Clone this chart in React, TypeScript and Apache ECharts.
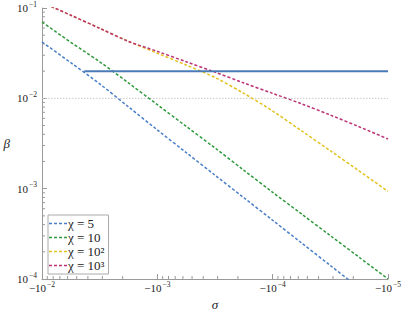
import React, { useEffect, useRef } from "react";
import * as echarts from "echarts";

// sigma grid (negative values), x axis shows sigma from -1e-2 to -1e-5
const SIGMA = [-1e-2, -5.623e-3, -3.162e-3, -1.778e-3, -1e-3, -5.623e-4, -3.162e-4, -1.778e-4, -1e-4, -5.623e-5, -3.162e-5, -1.778e-5, -1e-5];
const BETA_CHI5 = [0.0421, 0.0248, 0.01445, 0.00804, 0.00447, 0.00251, 0.00141, 0.000794, 0.000447, 0.000251, 0.000141, 0.0000794, 0.0000447];
const BETA_CHI10 = [0.07, 0.0417, 0.0254, 0.0148, 0.00851, 0.0049, 0.00282, 0.0016, 0.000912, 0.000525, 0.000302, 0.000174, 0.0001];
const BETA_CHI100 = [0.115, 0.0832, 0.0596, 0.0427, 0.0316, 0.0234, 0.017, 0.01135, 0.00724, 0.00437, 0.00263, 0.00157, 0.000933];
const BETA_CHI1000 = [0.115, 0.0832, 0.0596, 0.0427, 0.0331, 0.0254, 0.0195, 0.0148, 0.01135, 0.0087, 0.00653, 0.00484, 0.00355];
const SERIES_NAMES = ["χ = 5", "χ = 10", "χ = 10²", "χ = 10³"];
const COLORS = ["#4a7fc8", "#2f9a3c", "#e2c21e", "#bb3377"];

const SOLID_SIGMA = [-4.3e-3, -1e-5];
const SOLID_BETA = [0.02, 0.02];
const REF_SIGMA = [-1e-2, -1e-5];
const REF_BETA = [0.01, 0.01];

// axis ticks
const X_DECADES = [-5, -4, -3];
const Y_DECADES = [-4, -3, -2];
const MINOR_MANTISSAS = [2, 3, 4, 5, 6, 7, 8, 9];

const FONT = "'Liberation Serif', serif";
const AXIS_COLOR = "#9a9a9a";
const DASH_ICON = "path://M0,0h3v1h-3zM5,0h3v1h-3zM10,0h3v1h-3zM15,0h3v1h-3z";

function supLabel(prefix: string, v: number) {
  const e = Math.round(Math.log10(v));
  const es = e < 0 ? "−" + Math.abs(e) : String(e);
  return `{b|${prefix}10}{s|${es}}`;
}

const richText = {
  b: { fontFamily: FONT, fontSize: 11, color: "#222", lineHeight: 16, verticalAlign: "middle" },
  s: { fontFamily: FONT, fontSize: 7.5, color: "#222", lineHeight: 6, verticalAlign: "top", padding: [0, 0, 0, 1] },
};

export default function App() {
  const ref = useRef<HTMLDivElement>(null);
  useEffect(() => {
    if (!ref.current) return;
    const chart = echarts.init(ref.current, undefined, { renderer: "svg" });
    const pairs = (xs: number[], ys: number[]) => xs.map((s, i) => [-s, ys[i]]);
    const lines = [BETA_CHI5, BETA_CHI10, BETA_CHI100, BETA_CHI1000].map((ys, i) => ({
      name: SERIES_NAMES[i],
      type: "line",
      data: pairs(SIGMA, ys),
      showSymbol: false,
      symbol: "none",
      smooth: 0.3,
      clip: true,
      color: COLORS[i],
      itemStyle: { color: COLORS[i] },
      lineStyle: { color: COLORS[i], width: 1.5, type: [3, 2] },
      z: 3,
    }));
    const xMinor: number[][] = [];
    X_DECADES.forEach((d) => MINOR_MANTISSAS.forEach((m) => xMinor.push([m * Math.pow(10, d), 1e-4])));
    const yMinor: number[][] = [];
    Y_DECADES.forEach((d) => MINOR_MANTISSAS.forEach((m) => yMinor.push([1e-2, m * Math.pow(10, d)])));

    chart.setOption({
      animation: false,
      textStyle: { fontFamily: FONT },
      grid: { left: 42, right: 17, top: 8, bottom: 31, containLabel: false, outerBoundsMode: "none" },
      xAxis: {
        type: "log",
        logBase: 10,
        min: 1e-5,
        max: 1e-2,
        inverse: true,
        name: "σ",
        nameLocation: "middle",
        nameGap: 13,
        nameTextStyle: { fontFamily: FONT, fontStyle: "italic", fontSize: 13, lineHeight: 11, color: "#222" },
        axisLine: { lineStyle: { color: AXIS_COLOR, width: 1 } },
        axisTick: { inside: true, length: 5, lineStyle: { color: AXIS_COLOR } },
        axisLabel: { fontFamily: FONT, formatter: (v: number) => supLabel("−", v), rich: richText, margin: 1, showMinLabel: true, showMaxLabel: true, hideOverlap: false },
        splitLine: { show: false },
      },
      yAxis: {
        type: "log",
        logBase: 10,
        min: 1e-4,
        max: 1e-1,
        name: "β",
        nameLocation: "middle",
        nameRotate: 0,
        nameGap: 32,
        nameTextStyle: { fontFamily: FONT, fontStyle: "italic", fontSize: 13, color: "#222", padding: [0, 0, 14, 0] },
        axisLine: { lineStyle: { color: AXIS_COLOR, width: 1 } },
        axisTick: { inside: true, length: 5, lineStyle: { color: AXIS_COLOR } },
        axisLabel: { fontFamily: FONT, formatter: (v: number) => supLabel("", v), rich: richText, margin: 5 },
        splitLine: { show: false },
      },
      legend: {
        data: SERIES_NAMES,
        orient: "vertical",
        left: 48,
        top: 215,
        padding: [2, 4, 2, 1],
        itemGap: 1,
        itemWidth: 18,
        itemHeight: 1.5,
        icon: DASH_ICON,
        symbolKeepAspect: false,
        borderColor: "#aaa",
        borderWidth: 1,
        backgroundColor: "#fff",
        textStyle: { fontFamily: FONT, fontSize: 13, lineHeight: 13, color: "#222", padding: [0, 0, 0, -4] },
      },
      series: [
        {
          name: "ref",
          type: "line",
          data: pairs(REF_SIGMA, REF_BETA),
          symbol: "none",
          lineStyle: { color: "#c8c8c8", width: 1, type: [1.5, 1.5] },
          z: 1,
        },
        ...lines,
        {
          name: "threshold",
          type: "line",
          data: pairs(SOLID_SIGMA, SOLID_BETA),
          symbol: "none",
          lineStyle: { color: "#4a7ab8", width: 2 },
          z: 4,
        },
        {
          name: "xminor",
          type: "custom",
          data: xMinor,
          clip: false,
          silent: true,
          renderItem: (_p: any, api: any) => {
            const pt = api.coord([api.value(0), api.value(1)]);
            return { type: "line", shape: { x1: pt[0], y1: pt[1], x2: pt[0], y2: pt[1] - 3 }, style: { stroke: AXIS_COLOR, lineWidth: 1 } };
          },
          z: 2,
        },
        {
          name: "yminor",
          type: "custom",
          data: yMinor,
          clip: false,
          silent: true,
          renderItem: (_p: any, api: any) => {
            const pt = api.coord([api.value(0), api.value(1)]);
            return { type: "line", shape: { x1: pt[0], y1: pt[1], x2: pt[0] + 3, y2: pt[1] }, style: { stroke: AXIS_COLOR, lineWidth: 1 } };
          },
          z: 2,
        },
      ],
    });
    return () => chart.dispose();
  }, []);
  return <div ref={ref} style={{ width: 405, height: 310, position: "absolute", left: 0, top: 0, background: "#fff" }} />;
}
